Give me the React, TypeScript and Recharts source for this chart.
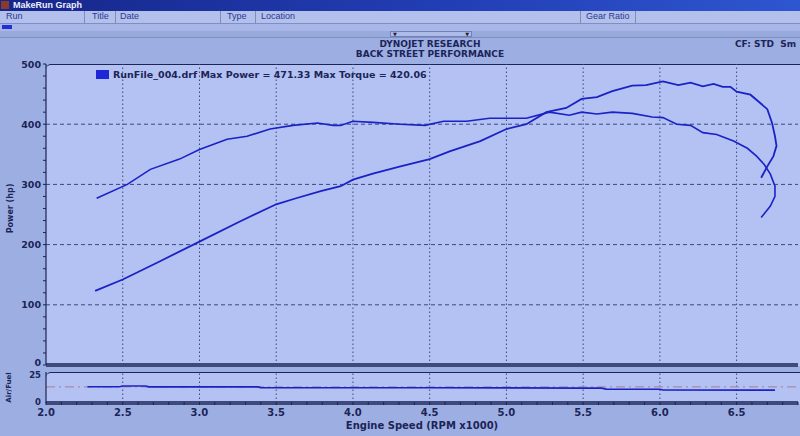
import { LineChart, Line, XAxis, YAxis, ReferenceLine, Legend } from "recharts";

const FONT = '"DejaVu Sans", sans-serif';
const INK = "#1c2458";
const TRACE = "#1b22c4";
const GRID = "#3c4682";

// power run, rpm x1000 / hp (the run curls back at the top end)
const powerRpm = [2.32, 2.5, 2.74, 3.0, 3.26, 3.5, 3.63, 3.79, 3.92, 4.0, 4.13, 4.31, 4.5, 4.63, 4.83, 5.0, 5.13, 5.26, 5.39, 5.49, 5.59, 5.69, 5.82, 5.91, 6.02, 6.12, 6.2, 6.28, 6.35, 6.41, 6.46, 6.5, 6.59, 6.65, 6.7, 6.73, 6.75, 6.76, 6.74, 6.7, 6.66];
const powerHp = [123, 142, 172, 205, 238, 267, 277, 289, 297, 308, 318, 330, 342, 355, 372, 392, 400, 420, 427, 442, 445, 455, 464, 465, 471, 465, 469, 463, 467, 462, 462, 454, 449, 436, 425, 403, 380, 364, 347, 330, 311];

// torque run
const torqueRpm = [2.33, 2.53, 2.68, 2.87, 3.0, 3.18, 3.31, 3.46, 3.61, 3.77, 3.87, 3.92, 4.0, 4.13, 4.31, 4.47, 4.59, 4.74, 4.89, 5.13, 5.28, 5.41, 5.49, 5.59, 5.69, 5.82, 5.95, 6.02, 6.11, 6.2, 6.28, 6.37, 6.48, 6.57, 6.63, 6.68, 6.72, 6.75, 6.75, 6.72, 6.66];
const torqueVal = [277, 300, 325, 342, 358, 375, 380, 392, 398, 402, 398, 398, 405, 403, 400, 398, 405, 405, 410, 410, 420, 415, 420, 417, 420, 418, 412, 411, 400, 398, 386, 383, 372, 360, 347, 333, 317, 297, 280, 264, 245];

// air/fuel trace
const afrRpm = [2.27, 2.48, 2.5, 2.65, 2.67, 3.38, 3.4, 4.5, 5.0, 5.5, 5.62, 5.65, 6.0, 6.02, 6.75];
const afrVal = [13.1, 13.1, 13.7, 13.7, 13.0, 13.0, 12.4, 12.3, 12.2, 12.0, 12.0, 11.2, 11.1, 10.5, 10.4];
const afrTarget = 13.0;

const rpmLabels = [2.0, 2.5, 3.0, 3.5, 4.0, 4.5, 5.0, 5.5, 6.0, 6.5];
const rpmGrid = [2.5, 3.0, 3.5, 4.0, 4.5, 5.0, 5.5, 6.0, 6.5];
const hpLabels = [0, 100, 200, 300, 400, 500];
const hpGrid = [100, 200, 300, 400];
const columns = ["Run", "Title", "Date", "Type", "Location", "Gear Ratio"];
const columnX = [6, 92, 120, 227, 261, 586];
const columnSep = [84, 115, 220, 255, 580, 635];

const powerData = powerRpm.map((rpm, i) => ({ rpm, hp: powerHp[i] }));
const torqueData = torqueRpm.map((rpm, i) => ({ rpm, tq: torqueVal[i] }));
const afrData = afrRpm.map((rpm, i) => ({ rpm, afr: afrVal[i] }));

const rpmMinor = Array.from({ length: 50 }, (_, i) => Math.round(20 + i) / 10);
const hpMinor = Array.from({ length: 26 }, (_, i) => i * 20);

function HpTick({ x, y, payload }: any) {
  const major = hpLabels.includes(payload.value);
  // the zero label sits a little high so it clears the air/fuel panel
  const dy = payload.value === 0 ? 1 : 3.5;
  return (
    <g>
      <line x1={x - 3} x2={x} y1={y} y2={y} stroke={INK} strokeWidth={1} />
      {major && (
        <text x={x - 5} y={y + dy} textAnchor="end" fontFamily={FONT} fontSize={9.5} fontWeight="bold" fill={INK}>
          {payload.value}
        </text>
      )}
    </g>
  );
}

function AfrTick({ x, y, payload }: any) {
  const dy = payload.value === 25 ? 6 : 2;
  return (
    <text x={x - 5} y={y + dy} textAnchor="end" fontFamily={FONT} fontSize={8.5} fontWeight="bold" fill={INK}>
      {payload.value}
    </text>
  );
}

function RpmTick({ x, y, payload }: any) {
  const label = rpmLabels.find((r) => Math.abs(r - payload.value) < 0.001);
  return (
    <g>
      <line x1={x} x2={x} y1={y - 1} y2={y + 2} stroke="#1a2250" strokeWidth={1} />
      {label !== undefined && (
        <text x={x} y={y + 13} textAnchor="middle" fontFamily={FONT} fontSize={10} fontWeight="bold" fill={INK}>
          {label.toFixed(1)}
        </text>
      )}
    </g>
  );
}

function RunLegend() {
  return (
    <div style={{ display: "flex", alignItems: "center", fontFamily: FONT, fontSize: 9.5, fontWeight: "bold", color: INK, whiteSpace: "nowrap" }}>
      <span style={{ display: "inline-block", width: 13, height: 9, background: "#1f26d8", marginRight: 4 }} />
      RunFile_004.drf Max Power = 471.33 Max Torque = 420.06
    </div>
  );
}

export default function App() {
  return (
    <div style={{ position: "absolute", left: 0, top: 0, width: 800, height: 436, overflow: "hidden", background: "#9dafe2", fontFamily: FONT }}>
      {/* window title bar */}
      <div style={{ position: "absolute", left: 0, top: 0, width: 800, height: 11, background: "linear-gradient(90deg, #16268a, #2340b8 60%, #2e56d0)" }}>
        <span style={{ position: "absolute", left: 1, top: 1, width: 8, height: 8, background: "#8a3a2a" }} />
        <span style={{ position: "absolute", left: 13, top: 0, color: "#eef", fontSize: 9, lineHeight: "10px", fontWeight: "bold", fontFamily: '"Liberation Sans", sans-serif' }}>MakeRun Graph</span>
      </div>
      {/* run table header */}
      <div style={{ position: "absolute", left: 0, top: 11, width: 800, height: 12, background: "#b3c0ec", borderBottom: "1px solid #7f8fc4" }}>
        {columns.map((c, i) => (
          <span key={c} style={{ position: "absolute", left: columnX[i], top: 0, fontSize: 9, color: "#2a3a90", fontFamily: '"Liberation Sans", sans-serif' }}>{c}</span>
        ))}
        {columnSep.map((x) => (
          <span key={x} style={{ position: "absolute", left: x, top: 0, width: 1, height: 12, background: "#7e8cc0" }} />
        ))}
      </div>
      <div style={{ position: "absolute", left: 0, top: 24, width: 800, height: 7, background: "#a9b7e8" }}>
        <span style={{ position: "absolute", left: 2, top: 1, width: 10, height: 4, background: "#2230d8" }} />
      </div>
      <div style={{ position: "absolute", left: 0, top: 31, width: 800, height: 6, background: "#98a9dc", borderBottom: "1px solid #7f8fc4" }}>
        <span style={{ position: "absolute", left: 390, top: 0, width: 80, height: 4, border: "1px solid #6f7fb8", background: "#aebbe8", fontSize: 5, lineHeight: "4px", color: "#223" }}>
          <span style={{ position: "absolute", left: 2 }}>▼</span>
          <span style={{ position: "absolute", right: 2 }}>▼</span>
        </span>
      </div>
      {/* report titles */}
      <div style={{ position: "absolute", left: 330, width: 200, top: 39, textAlign: "center", fontSize: 9, fontWeight: "bold", color: INK, lineHeight: "10px" }}>
        DYNOJET RESEARCH
        <br />
        BACK STREET PERFORMANCE
      </div>
      <div style={{ position: "absolute", left: 735, top: 39, fontSize: 9, fontWeight: "bold", color: INK, whiteSpace: "nowrap" }}>CF: STD&nbsp;&nbsp;Sm</div>

      {/* plot panels */}
      <div style={{ position: "absolute", left: 46, top: 64, width: 760, height: 301, background: "#b3c2f3", borderTop: `1px solid ${INK}`, borderTopLeftRadius: 5 }} />
      <div style={{ position: "absolute", left: 46, top: 372, width: 760, height: 31, background: "#b3c2f3", borderTop: `1px solid ${INK}`, borderTopLeftRadius: 5 }} />

      <LineChart width={800} height={372} margin={{ top: 64, right: 2, bottom: 0, left: 0 }} style={{ position: "absolute", left: 0, top: 0 }}>
        <XAxis type="number" dataKey="rpm" domain={[2, 6.9]} allowDataOverflow ticks={rpmMinor} interval={0} tick={false} tickLine={false} height={7} axisLine={{ stroke: "#3e4a7c", strokeWidth: 4 }} />
        <YAxis
          type="number"
          domain={[0, 500]}
          ticks={hpMinor}
          interval={0}
          width={46}
          tickSize={0}
          tickMargin={0}
          tickLine={false}
          tick={<HpTick />}
          axisLine={{ stroke: INK, strokeWidth: 1.2 }}
          label={{
            content: ({ viewBox }: any) => (
              <text transform={`translate(13, ${viewBox.y + viewBox.height / 2 - 6}) rotate(-90)`} textAnchor="middle" fontFamily={FONT} fontSize={8} fontWeight="bold" fill={INK}>
                Power (hp)
              </text>
            ),
          }}
        />
        {hpGrid.map((v) => (
          <ReferenceLine key={v} y={v} stroke={GRID} strokeDasharray="4 3" strokeWidth={1} />
        ))}
        {rpmGrid.map((v) => (
          <ReferenceLine key={v} x={v} stroke={GRID} strokeDasharray="1.5 2.5" strokeWidth={1} />
        ))}
        <Legend layout="vertical" align="center" verticalAlign="middle" content={<RunLegend />} wrapperStyle={{ left: 96, top: 69, width: "auto" }} />
        <Line data={torqueData} dataKey="tq" type="linear" stroke={TRACE} strokeWidth={1.6} dot={false} isAnimationActive={false} />
        <Line data={powerData} dataKey="hp" type="linear" stroke={TRACE} strokeWidth={1.8} dot={false} isAnimationActive={false} />
      </LineChart>

      <LineChart width={800} height={70} margin={{ top: 10, right: 2, bottom: 0, left: 0 }} style={{ position: "absolute", left: 0, top: 362 }}>
        <XAxis
          type="number"
          dataKey="rpm"
          domain={[2, 6.9]}
          allowDataOverflow
          ticks={rpmMinor}
          interval={0}
          tickSize={0}
          tickMargin={0}
          tickLine={false}
          tick={<RpmTick />}
          height={29}
          axisLine={{ stroke: "#3e4a7c", strokeWidth: 4 }}
          label={{ value: "Engine Speed (RPM x1000)", position: "insideBottom", offset: 3, fill: INK, fontSize: 10, fontWeight: "bold", fontFamily: FONT }}
        />
        <YAxis
          type="number"
          domain={[0, 25]}
          ticks={[0, 25]}
          interval={0}
          width={46}
          tickSize={0}
          tickMargin={0}
          tickLine={false}
          tick={<AfrTick />}
          axisLine={{ stroke: INK, strokeWidth: 1.2 }}
          label={{
            content: ({ viewBox }: any) => (
              <text transform={`translate(11, ${viewBox.y + viewBox.height / 2}) rotate(-90)`} textAnchor="middle" fontFamily={FONT} fontSize={7} fontWeight="bold" fill={INK}>
                Air/Fuel
              </text>
            ),
          }}
        />
        {rpmGrid.map((v) => (
          <ReferenceLine key={v} x={v} stroke={GRID} strokeDasharray="1.5 2.5" strokeWidth={1} />
        ))}
        <ReferenceLine y={afrTarget} stroke="#a68ca6" strokeDasharray="9 4 2 4" strokeWidth={1.2} />
        <Line data={afrData} dataKey="afr" type="linear" stroke={TRACE} strokeWidth={1.6} dot={false} isAnimationActive={false} />
      </LineChart>
    </div>
  );
}
